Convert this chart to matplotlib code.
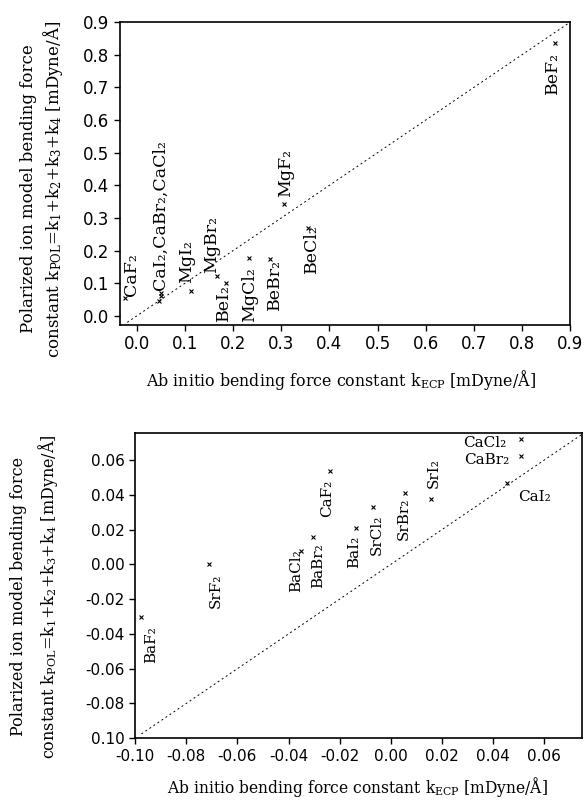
import matplotlib
matplotlib.use("Agg")
import matplotlib.pyplot as plt
import numpy as np

plt.rcParams['mathtext.fontset'] = 'dejavuserif'

# ---------- data: top panel ----------
top_names = ["CaF₂", "CaI₂", "CaBr₂", "CaCl₂", "MgI₂", "MgBr₂", "BeI₂", "MgCl₂",
             "BeBr₂", "MgF₂", "BeCl₂", "BeF₂"]
top_x = [-0.025, 0.045, 0.050, 0.050, 0.113, 0.167, 0.186, 0.233, 0.277, 0.306, 0.355, 0.869]
top_y = [0.055, 0.046, 0.062, 0.071, 0.077, 0.123, 0.100, 0.176, 0.174, 0.342, 0.268, 0.836]

top_labels = ["CaF₂", "CaI₂,CaBr₂,CaCl₂", "MgI₂", "MgBr₂", "BeI₂", "MgCl₂",
              "BeBr₂", "MgF₂", "BeCl₂", "BeF₂"]
top_xticks = [0.0, 0.1, 0.2, 0.3, 0.4, 0.5, 0.6, 0.7, 0.8, 0.9]
top_yticks = [0.0, 0.1, 0.2, 0.3, 0.4, 0.5, 0.6, 0.7, 0.8, 0.9]

# ---------- data: bottom panel ----------
bot_names = ["BaF₂", "SrF₂", "BaCl₂", "BaBr₂", "CaF₂", "BaI₂", "SrCl₂", "SrBr₂",
             "SrI₂", "CaCl₂", "CaBr₂", "CaI₂"]
bot_x = [-0.0977, -0.0712, -0.0353, -0.0303, -0.0238, -0.0137, -0.0069, 0.0056,
         0.0155, 0.0510, 0.0507, 0.0452]
bot_y = [-0.0301, 0.0002, 0.0078, 0.0155, 0.0538, 0.0207, 0.0331, 0.0408,
         0.0374, 0.0718, 0.0622, 0.0469]
bot_xticks = [-0.10, -0.08, -0.06, -0.04, -0.02, 0.00, 0.02, 0.04, 0.06]
bot_xticklabels = ["-0.10", "-0.08", "-0.06", "-0.04", "-0.02", "0.00", "0.02", "0.04", "0.06"]
bot_yticks = [-0.10, -0.08, -0.06, -0.04, -0.02, 0.00, 0.02, 0.04, 0.06]
bot_yticklabels = ["0.10", "-0.08", "-0.06", "-0.04", "-0.02", "0.00", "0.02", "0.04", "0.06"]

# label anchor positions (data coords): (x_center, y, rotation, ha, va)
top_label_pos = [(-0.011, 0.060, 90, 'center', 'bottom'),
                 (0.048, 0.080, 90, 'center', 'bottom'),
                 (0.103, 0.100, 90, 'center', 'bottom'),
                 (0.155, 0.130, 90, 'center', 'bottom'),
                 (0.179, -0.017, 90, 'center', 'bottom'),
                 (0.234, -0.020, 90, 'center', 'bottom'),
                 (0.286, 0.018, 90, 'center', 'bottom'),
                 (0.310, 0.365, 90, 'center', 'bottom'),
                 (0.362, 0.130, 90, 'center', 'bottom'),
                 (0.864, 0.680, 90, 'center', 'bottom')]
bot_label_pos = [(-0.0935, -0.0567, 90, 'center', 'bottom'),
                 (-0.0684, -0.0253, 90, 'center', 'bottom'),
                 (-0.0371, -0.0157, 90, 'center', 'bottom'),
                 (-0.0284, -0.0138, 90, 'center', 'bottom'),
                 (-0.0251, 0.0274, 90, 'center', 'bottom'),
                 (-0.0145, -0.0023, 90, 'center', 'bottom'),
                 (-0.0056, 0.0053, 90, 'center', 'bottom'),
                 (0.0052, 0.0140, 90, 'center', 'bottom'),
                 (0.0168, 0.0437, 90, 'center', 'bottom'),
                 (0.0452, 0.0695, 0, 'right', 'center'),
                 (0.0465, 0.0599, 0, 'right', 'center'),
                 (0.0497, 0.0389, 0, 'left', 'center')]

SERIF = ['DejaVu Serif']
TICKF = ['DejaVu Sans']

fig = plt.figure(figsize=(5.86, 8.01), dpi=100)
ax1 = fig.add_axes([0.2048, 0.5943, 0.768, 0.378])
ax2 = fig.add_axes([0.2304, 0.0783, 0.7623, 0.3807])


def style(ax, size):
    for s in ax.spines.values():
        s.set_linewidth(1.2)
        s.set_color('black')
    ax.tick_params(direction='out', length=4, width=1.0, top=False, right=False,
                   labelsize=size)
    for lab in ax.get_xticklabels() + ax.get_yticklabels():
        lab.set_family(TICKF)


# top panel
ax1.set_xlim(-0.035, 0.9)
ax1.set_ylim(-0.028, 0.9)
ax1.plot([-0.02, 0.9], [-0.02, 0.9], linestyle=(0, (2, 3)), color='black', lw=0.7)
ax1.plot(top_x, top_y, linestyle='none', marker='x', ms=3.5, mew=0.8, color='black')
ax1.set_xticks(top_xticks)
ax1.set_xticklabels([f"{v:.1f}" for v in top_xticks])
ax1.set_yticks(top_yticks)
ax1.set_yticklabels([f"{v:.1f}" for v in top_yticks])
style(ax1, 12)
for t, (x, y, r, ha, va) in zip(top_labels, top_label_pos):
    ax1.text(x, y, t, rotation=r, ha=ha, va=va, fontsize=12.5, family=SERIF)

# bottom panel
ax2.set_xlim(-0.10, 0.0746)
ax2.set_ylim(-0.10, 0.0753)
ax2.plot([-0.0975, 0.0746], [-0.0975, 0.0746], linestyle=(0, (2, 3)), color='black', lw=0.7)
ax2.plot(bot_x, bot_y, linestyle='none', marker='x', ms=3.5, mew=0.8, color='black')
ax2.set_xticks(bot_xticks)
ax2.set_xticklabels(bot_xticklabels)
ax2.set_yticks(bot_yticks)
ax2.set_yticklabels(bot_yticklabels)
style(ax2, 11)
for t, (x, y, r, ha, va) in zip(bot_names, bot_label_pos):
    ax2.text(x, y, t, rotation=r, ha=ha, va=va, fontsize=11, family=SERIF)

# axis labels
YL2 = r"constant k$_{\rm POL}$=k$_1$+k$_2$+k$_3$+k$_4$ [mDyne/Å]"
XL = r"Ab initio bending force constant k$_{\rm ECP}$ [mDyne/Å]"
fig.text(0.048, 0.764, "Polarized ion model bending force", rotation=90,
         ha='center', va='center', fontsize=12, family=SERIF)
fig.text(0.090, 0.764, YL2, rotation=90, ha='center', va='center', fontsize=12, family=SERIF)
fig.text(0.582, 0.526, XL, ha='center', va='center', fontsize=11.4, family=SERIF)

fig.text(0.031, 0.255, "Polarized ion model bending force", rotation=90,
         ha='center', va='center', fontsize=11.5, family=SERIF)
fig.text(0.082, 0.255, YL2, rotation=90, ha='center', va='center', fontsize=11.5, family=SERIF)
fig.text(0.610, 0.017, XL, ha='center', va='center', fontsize=11.2, family=SERIF)

fig.savefig("out.png", dpi=100)
